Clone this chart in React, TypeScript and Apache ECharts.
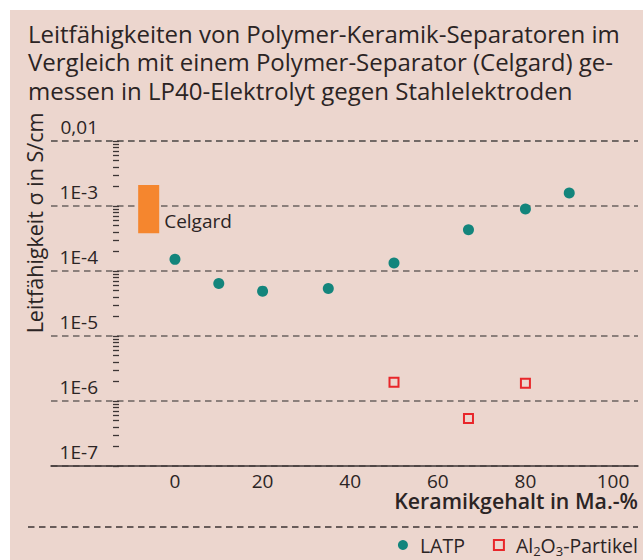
import React, { useEffect, useRef } from 'react';
import * as echarts from 'echarts';

// ---- data ----
const latpX = [0, 10, 20, 35, 50, 67, 80, 90];
const latpY = [1.51e-4, 6.4e-5, 4.9e-5, 5.4e-5, 1.33e-4, 4.3e-4, 9.0e-4, 1.58e-3];
const alX = [50, 67, 80];
const alY = [1.94e-6, 5.4e-7, 1.87e-6];
// Celgard range: x from, x to, sigma low, sigma high
const celgard = [-8.4, -3.6, 3.8e-4, 2.1e-3];
const xTicks = [0, 20, 40, 60, 80, 100];
const yDecades = [1e-7, 1e-6, 1e-5, 1e-4, 1e-3, 1e-2];
const yTickLabels = ['1E-7', '1E-6', '1E-5', '1E-4', '1E-3', '0,01'];

const yMinorTicks: number[] = [];
yDecades.slice(0, -1).forEach((d) => {
  for (let m = 1; m < 10; m++) yMinorTicks.push(d * m);
});
yMinorTicks.push(yDecades[yDecades.length - 1]);

const FONT = 'Open Sans';
const TEXT = '#2b2424';
const BG = '#ecd6ce';
const GRID = '#6b6360';

export default function App() {
  const ref = useRef<HTMLDivElement>(null);
  useEffect(() => {
    document.body.style.margin = '0';
    const chart = echarts.init(ref.current!, undefined, { renderer: 'svg' });
    const yBase = {
      type: 'log',
      logBase: 10,
      min: yDecades[0],
      max: yDecades[yDecades.length - 1],
      position: 'left',
      offset: -68,
      axisLine: { show: false },
    };
    chart.setOption({
      animation: false,
      backgroundColor: '#ffffff',
      textStyle: { fontFamily: FONT },
      title: {
        text:
          'Leitfähigkeiten von Polymer-Keramik-Separatoren im\nVergleich mit einem Polymer-Separator (Celgard) ge-\nmessen in LP40-Elektrolyt gegen Stahlelektroden',
        left: 28,
        top: 19,
        padding: 0,
        textStyle: { fontSize: 24, lineHeight: 28.5, fontWeight: 'normal', color: TEXT, fontFamily: FONT },
      },
      graphic: [
        { type: 'rect', z: -10, silent: true, shape: { x: 10, y: 10, width: 633, height: 550 }, style: { fill: BG } },
        {
          type: 'text',
          x: 34,
          y: 223,
          rotation: Math.PI / 2,
          style: {
            text: 'Leitfähigkeit σ in S/cm',
            fontSize: 21.5,
            fontFamily: FONT,
            fill: TEXT,
            align: 'center',
            verticalAlign: 'middle',
          },
        },
        {
          type: 'text',
          x: 638,
          y: 500,
          style: {
            text: 'Keramikgehalt in Ma.-%',
            fontSize: 21.3,
            fontWeight: 600,
            lineHeight: 18,
            fontFamily: FONT,
            fill: TEXT,
            align: 'right',
            verticalAlign: 'middle',
          },
        },
        {
          type: 'line',
          shape: { x1: 28, y1: 527, x2: 638, y2: 527 },
          style: { stroke: '#3d3535', lineWidth: 1.3, lineDash: [6.5, 4.5] },
        },
      ],
      grid: { left: 51, right: 5, top: 141, bottom: 94, outerBoundsMode: 'none', containLabel: false },
      xAxis: {
        type: 'value',
        min: -28.3,
        max: 105.7,
        splitLine: { show: false },
        axisTick: { show: false },
        axisLine: { show: true, lineStyle: { color: '#3d3535', width: 1.5 } },
        axisLabel: {
          customValues: xTicks,
          fontSize: 19,
          lineHeight: 16,
          color: TEXT,
          margin: 7,
          fontFamily: FONT,
        },
      },
      yAxis: [
        {
          ...yBase,
          axisTick: { show: false },
          minorTick: { show: false },
          splitLine: { show: true, lineStyle: { color: GRID, width: 1.5, type: [6.5, 4.5] } },
          axisLabel: {
            customValues: yDecades,
            formatter: (v: number) => yTickLabels[Math.round(Math.log10(v)) + 7],
            fontSize: 19,
            color: TEXT,
            margin: 21,
            verticalAlign: 'bottom',
            padding: [0, 0, 5, 0],
            fontFamily: FONT,
          },
        },
        {
          ...yBase,
          axisTick: {
            show: true,
            customValues: yMinorTicks,
            length: 6,
            lineStyle: { color: '#3d3535', width: 1.3 },
          },
          minorTick: { show: false },
          splitLine: { show: false },
          axisLabel: { show: false },
        },
      ],
      legend: {
        data: ['LATP', 'Al2O3-Partikel'],
        right: 5,
        top: 535,
        padding: 0,
        itemWidth: 10,
        itemHeight: 10,
        itemGap: 28,
        formatter: (name: string) =>
          name === 'LATP' ? 'LATP' : '{n|Al}{s|2}{n|O}{s|3}{n|-Partikel}',
        textStyle: {
          fontSize: 19.5,
          color: TEXT,
          fontFamily: FONT,
          padding: [0, 0, 0, 7],
          rich: {
            n: { fontSize: 19.5, lineHeight: 24, color: TEXT, fontFamily: FONT },
            s: { fontSize: 13, lineHeight: 12, verticalAlign: 'bottom', color: TEXT, fontFamily: FONT },
          },
        },
      },
      series: [
        {
          type: 'custom',
          name: 'Celgard',
          encode: { x: [0, 1], y: [2, 3] },
          data: [celgard],
          renderItem: (params: any, api: any) => {
            const p1 = api.coord([api.value(0), api.value(3)]);
            const p2 = api.coord([api.value(1), api.value(2)]);
            return {
              type: 'group',
              children: [
                {
                  type: 'rect',
                  shape: { x: p1[0], y: p1[1], width: p2[0] - p1[0], height: p2[1] - p1[1] },
                  style: { fill: '#f5862e' },
                },
                {
                  type: 'text',
                  style: {
                    text: 'Celgard',
                    x: p2[0] + 5,
                    y: p2[1] - 12,
                    verticalAlign: 'middle',
                    fontSize: 19,
                    fontFamily: FONT,
                    fill: TEXT,
                  },
                },
              ],
            };
          },
        },
        {
          type: 'scatter',
          name: 'LATP',
          symbol: 'circle',
          symbolSize: 11,
          itemStyle: { color: '#13857c', opacity: 1 },
          data: latpX.map((x, i) => [x, latpY[i]]),
        },
        {
          type: 'scatter',
          name: 'Al2O3-Partikel',
          symbol: 'rect',
          symbolSize: 9,
          itemStyle: { color: BG, borderColor: '#e8262a', borderWidth: 2, opacity: 1 },
          data: alX.map((x, i) => [x, alY[i]]),
        },
      ],
    });
    return () => chart.dispose();
  }, []);
  return <div ref={ref} style={{ width: 643, height: 560 }} />;
}
